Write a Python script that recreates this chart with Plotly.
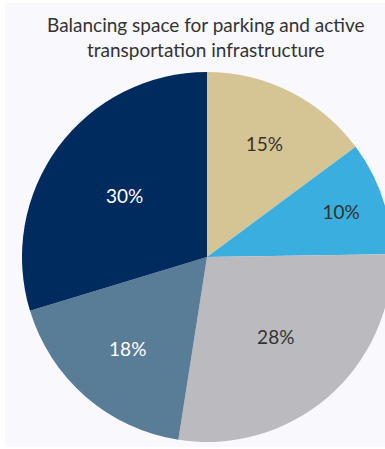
import plotly.graph_objects as go

# Share of street space, clockwise from 12 o'clock
categories = ["Segment A", "Segment B", "Segment C", "Segment D", "Segment E"]
shares = [15, 10, 28, 18, 30]
slice_colors = ["#D6C594", "#3AAEDF", "#BBBBBF", "#5A7D97", "#002B5F"]
label_colors = ["#333333", "#333333", "#333333", "#FFFFFF", "#FFFFFF"]
title_text = "Balancing space for parking and active<br>transportation infrastructure"

W, H = 400, 449

fig = go.Figure(
    go.Pie(
        labels=categories,
        values=shares,
        text=[f"{v}%" for v in shares],
        textinfo="text",
        textposition="inside",
        insidetextorientation="horizontal",
        insidetextfont=dict(family="Lato", size=19, color=label_colors),
        marker=dict(colors=slice_colors, line=dict(width=0)),
        sort=False,
        direction="clockwise",
        rotation=0,
        hole=0,
        showlegend=False,
        domain=dict(x=[22 / W, 392 / W], y=[(H - 442) / H, (H - 72) / H]),
    )
)

fig.update_layout(
    width=W,
    height=H,
    margin=dict(l=0, r=0, t=0, b=0),
    paper_bgcolor="#FFFFFF",
    shapes=[
        dict(
            type="rect", xref="paper", yref="paper", layer="below",
            x0=5 / W, x1=1, y0=2 / H, y1=(H - 3) / H,
            fillcolor="#F8F8FD", line=dict(width=0),
        )
    ],
    annotations=[
        dict(
            text=title_text, xref="paper", yref="paper",
            x=206 / W, y=(H - 37) / H, xanchor="center", yanchor="middle",
            showarrow=False, align="center",
            font=dict(family="Lato", size=19, color="#333333"),
        )
    ],
)

fig.write_html(
    "out.html",
    post_script="document.body.style.margin='0';document.body.style.overflow='hidden';",
)
